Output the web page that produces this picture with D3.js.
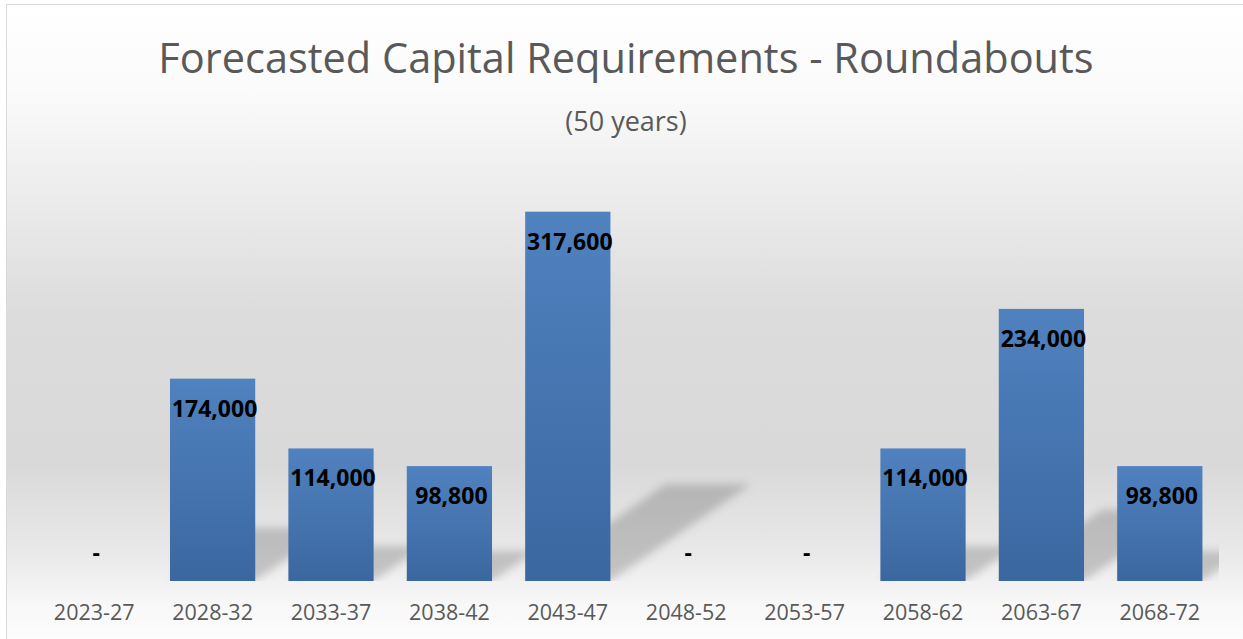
<!DOCTYPE html>
<html>
<head>
<meta charset="utf-8">
<script src="https://cdn.jsdelivr.net/npm/d3@7"></script>
<style>
  html, body { margin: 0; padding: 0; background: #ffffff; }
  svg { display: block; }
</style>
</head>
<body>
<svg id="chart" width="1243" height="639"></svg>
<script>
var categories = ["2023-27", "2028-32", "2033-37", "2038-42", "2043-47",
                  "2048-52", "2053-57", "2058-62", "2063-67", "2068-72"];
var values = [0, 174000, 114000, 98800, 317600, 0, 0, 114000, 234000, 98800];
var titleText = "Forecasted Capital Requirements - Roundabouts";
var subtitleText = "(50 years)";

var W = 1243, H = 639;
var plot = {left: 35, right: 1219, top: 174, bottom: 581};

var svg = d3.select("#chart");
var defs = svg.append("defs");

// chart background: light vertical gradient, grey in the middle
var bg = defs.append("linearGradient")
  .attr("id", "bgGrad")
  .attr("x1", 0).attr("y1", 0).attr("x2", 0).attr("y2", 1);
[[0, "#ffffff"], [0.13, "#fbfbfb"], [0.3, "#ececec"], [0.48, "#dcdcdc"],
 [0.72, "#d9d9d9"], [0.86, "#e9e9e9"], [0.94, "#f8f8f8"], [1, "#fdfdfd"]]
  .forEach(function(s){
    bg.append("stop").attr("offset", s[0]).attr("stop-color", s[1]);
  });

var barGrad = defs.append("linearGradient")
  .attr("id", "barGrad")
  .attr("x1", 0).attr("y1", 0).attr("x2", 0).attr("y2", 1);
barGrad.append("stop").attr("offset", 0).attr("stop-color", "#5082bf");
barGrad.append("stop").attr("offset", 1).attr("stop-color", "#3b67a0");

defs.append("filter")
  .attr("id", "shadowBlur")
  .attr("x", "-20%").attr("y", "-20%").attr("width", "140%").attr("height", "140%")
  .append("feGaussianBlur")
  .attr("stdDeviation", 4.5);

defs.append("clipPath")
  .attr("id", "plotClip")
  .append("rect")
  .attr("x", plot.left).attr("y", 0)
  .attr("width", plot.right - plot.left)
  .attr("height", plot.bottom);

svg.append("rect")
  .attr("x", 6.5).attr("y", 4.5)
  .attr("width", W).attr("height", H)
  .attr("fill", "url(#bgGrad)")
  .attr("stroke", "#d9d9d9")
  .attr("stroke-width", 1);

var x = d3.scaleBand()
  .domain(categories)
  .range([plot.left, plot.right])
  .paddingInner(0.28)
  .paddingOuter(0.14);

var y = d3.scaleLinear()
  .domain([0, 350000])
  .range([plot.bottom, plot.top]);

var data = categories.map(function(c, i){ return {cat: c, value: values[i]}; });

// perspective shadows behind the bars
svg.append("g")
  .attr("clip-path", "url(#plotClip)")
  .append("g")
  .attr("filter", "url(#shadowBlur)")
  .selectAll("polygon")
  .data(data.filter(function(d){ return d.value > 0; }))
  .join("polygon")
  .attr("points", function(d){
    var x0 = x(d.cat), x1 = x0 + x.bandwidth();
    var base = y(0);
    var dy = 0.262 * (base - y(d.value));
    var dx = 1.45 * dy;
    return [[x0, base], [x1, base], [x1 + dx, base - dy], [x0 + dx, base - dy]]
      .map(function(p){ return p.join(","); }).join(" ");
  })
  .attr("fill", "#000000")
  .attr("fill-opacity", 0.18);

svg.append("g")
  .selectAll("rect")
  .data(data)
  .join("rect")
  .attr("x", function(d){ return x(d.cat); })
  .attr("y", function(d){ return y(d.value); })
  .attr("width", x.bandwidth())
  .attr("height", function(d){ return y(0) - y(d.value); })
  .attr("fill", "url(#barGrad)");

var fmt = d3.format(",");
svg.append("g")
  .selectAll("text")
  .data(data)
  .join("text")
  .attr("x", function(d){ return x(d.cat) + x.bandwidth() / 2 + 2; })
  .attr("y", function(d){ return d.value > 0 ? y(d.value) + 38 : y(0) - 20; })
  .attr("text-anchor", "middle")
  .attr("font-family", "'Open Sans', sans-serif")
  .attr("font-weight", "bold")
  .attr("font-size", 23)
  .attr("fill", "#000000")
  .text(function(d){ return d.value > 0 ? fmt(d.value) : "-"; });

var xAxis = svg.append("g")
  .attr("transform", "translate(0," + plot.bottom + ")")
  .call(d3.axisBottom(x).tickSize(0).tickPadding(24));
xAxis.select(".domain").remove();
xAxis.selectAll("text")
  .attr("font-family", "'Open Sans', sans-serif")
  .attr("font-size", 21.5)
  .attr("fill", "#595959");

svg.append("text")
  .attr("x", 626)
  .attr("y", 73)
  .attr("text-anchor", "middle")
  .attr("font-family", "'Open Sans', sans-serif")
  .attr("font-size", 41.5)
  .attr("fill", "#595959")
  .text(titleText);

svg.append("text")
  .attr("x", 626)
  .attr("y", 131)
  .attr("text-anchor", "middle")
  .attr("font-family", "'Open Sans', sans-serif")
  .attr("font-size", 27)
  .attr("fill", "#595959")
  .text(subtitleText);
</script>
</body>
</html>
